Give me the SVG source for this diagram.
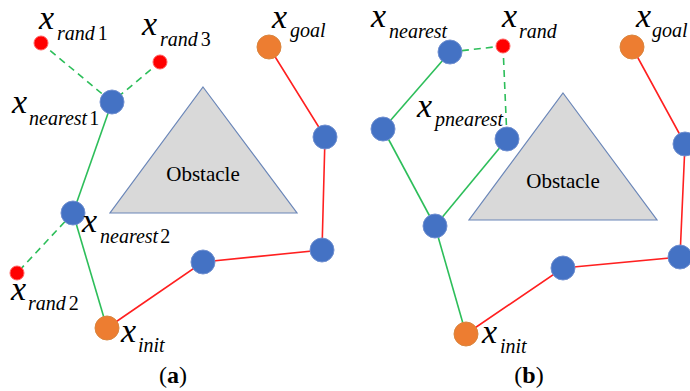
<svg xmlns="http://www.w3.org/2000/svg" width="690" height="391" viewBox="0 0 690 391">
<style>
.g{stroke:#2DBE5A;stroke-width:1.6;fill:none}
.gd{stroke:#2DBE5A;stroke-width:1.6;fill:none;stroke-dasharray:7 5}
.r{stroke:#FF2020;stroke-width:1.6;fill:none}
.bn{fill:#4472C4;stroke:#6F8FD0;stroke-width:1}
.on{fill:#ED7D31;stroke:#D9863F;stroke-width:1}
.rn{fill:#FF0000;stroke:#FF6060;stroke-width:1}
.obs{fill:#D9D9D9;stroke:#6A86B8;stroke-width:1.2}
.ot{font-family:"Liberation Serif",serif;font-size:21px;fill:#000;text-anchor:middle}
.x{font-family:"Liberation Serif",serif;font-style:italic;font-size:34px;fill:#000}
.s{font-family:"Liberation Serif",serif;font-style:italic;font-size:20px;fill:#000}
.d{font-style:normal}
.cap{font-family:"Liberation Serif",serif;font-size:24px;fill:#000;text-anchor:middle}
</style>
<g id="connectors">
<line class="gd" x1="41" y1="43" x2="112" y2="102"/>
<line class="gd" x1="160" y1="62" x2="112" y2="102"/>
<line class="gd" x1="73" y1="213" x2="17" y2="273"/>
<line class="g" x1="112" y1="102" x2="73" y2="213"/>
<line class="g" x1="73" y1="213" x2="107" y2="328"/>
<polyline class="r" points="107,328 203,262 322,250 325,137 269,47"/>
<line class="gd" x1="450" y1="52" x2="503" y2="46"/>
<line class="gd" x1="503" y1="46" x2="507" y2="139"/>
<line class="g" x1="450" y1="52" x2="383" y2="129"/>
<line class="g" x1="383" y1="129" x2="435" y2="226"/>
<line class="g" x1="435" y1="226" x2="507" y2="139"/>
<line class="g" x1="435" y1="226" x2="466" y2="334"/>
<polyline class="r" points="466,334 563,268 680,257 685,144 632,47"/>
</g>
<g id="obstacle-a"><polygon class="obs" points="203,87 297,213 110,213"/><text class="ot" x="203" y="181">Obstacle</text></g>
<g id="obstacle-b"><polygon class="obs" points="563,93 657,220 469,220"/><text class="ot" x="563" y="188">Obstacle</text></g>
<g id="a-rand1"><circle class="rn" cx="41" cy="43" r="7"/><text class="x" x="39" y="29">x</text><text class="s" x="57" y="40">rand<tspan class="d" dx="3">1</tspan></text></g>
<g id="a-rand3"><circle class="rn" cx="160" cy="62" r="7"/><text class="x" x="142" y="35">x</text><text class="s" x="160" y="46">rand<tspan class="d" dx="3">3</tspan></text></g>
<g id="a-nearest1"><circle class="bn" cx="112" cy="102" r="12"/><text class="x" x="12" y="113">x</text><text class="s" x="29" y="125">nearest<tspan class="d" dx="2">1</tspan></text></g>
<g id="a-goal"><circle class="on" cx="269" cy="47" r="12"/><text class="x" x="272" y="28">x</text><text class="s" x="290" y="37">goal</text></g>
<g id="a-n1"><circle class="bn" cx="325" cy="137" r="12"/></g>
<g id="a-nearest2"><circle class="bn" cx="73" cy="213" r="12"/><text class="x" x="82" y="232">x</text><text class="s" x="100" y="243">nearest<tspan class="d" dx="2">2</tspan></text></g>
<g id="a-rand2"><circle class="rn" cx="17" cy="273" r="7"/><text class="x" x="11" y="300">x</text><text class="s" x="28" y="310">rand<tspan class="d" dx="3">2</tspan></text></g>
<g id="a-n2"><circle class="bn" cx="203" cy="262" r="12"/></g>
<g id="a-n3"><circle class="bn" cx="322" cy="250" r="12"/></g>
<g id="a-init"><circle class="on" cx="107" cy="328" r="12"/><text class="x" x="121" y="342">x</text><text class="s" x="138" y="352">init</text></g>
<g id="b-nearest"><circle class="bn" cx="450" cy="52" r="12"/><text class="x" x="371" y="27">x</text><text class="s" x="389" y="38">nearest</text></g>
<g id="b-rand"><circle class="rn" cx="503" cy="46" r="7"/><text class="x" x="502" y="27">x</text><text class="s" x="519" y="38">rand</text></g>
<g id="b-n1"><circle class="bn" cx="383" cy="129" r="12"/></g>
<g id="b-pnearest"><circle class="bn" cx="507" cy="139" r="12"/><text class="x" x="417" y="117">x</text><text class="s" x="435" y="126">pnearest</text></g>
<g id="b-goal"><circle class="on" cx="632" cy="47" r="12"/><text class="x" x="636" y="27">x</text><text class="s" x="652" y="37">goal</text></g>
<g id="b-n2"><circle class="bn" cx="685" cy="144" r="12"/></g>
<g id="b-n3"><circle class="bn" cx="435" cy="226" r="12"/></g>
<g id="b-n4"><circle class="bn" cx="563" cy="268" r="12"/></g>
<g id="b-n5"><circle class="bn" cx="680" cy="257" r="12"/></g>
<g id="b-init"><circle class="on" cx="466" cy="334" r="12"/><text class="x" x="482" y="343">x</text><text class="s" x="500" y="353">init</text></g>
<text class="cap" x="173" y="383">(<tspan font-weight="bold">a</tspan>)</text>
<text class="cap" x="529" y="383">(<tspan font-weight="bold">b</tspan>)</text>
</svg>
